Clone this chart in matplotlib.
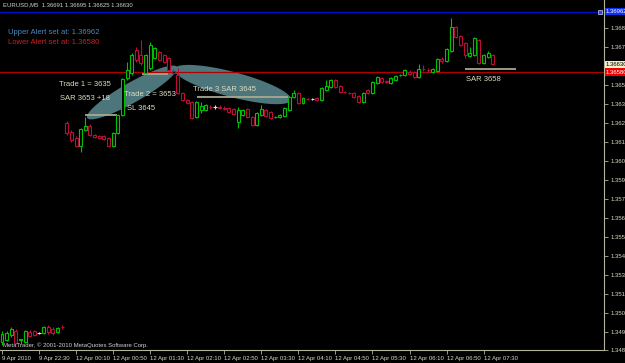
import matplotlib
matplotlib.use("Agg")
import matplotlib.pyplot as plt
from matplotlib.patches import Rectangle, Polygon
import matplotlib.transforms as mtransforms
import numpy as np
import pandas as pd

plt.rcParams['font.family'] = ['Liberation Sans', 'DejaVu Sans']

# ---------------- data (EURUSD M5) ----------------
opens = [1.34876, 1.34889, 1.34920, 1.34946, 1.34889, 1.34876, 1.34939, 1.34946, 1.34933, 1.34933, 1.34971, 1.34958, 1.34939, 1.34971,
         1.36259, 1.36202, 1.36164, 1.36114, 1.36215, 1.36240, 1.36183, 1.36177, 1.36177, 1.36164,
         1.36114, 1.36196, 1.36310, 1.36543, 1.36575, 1.36720, 1.36689, 1.36575, 1.36607, 1.36670,
         1.36708, 1.36689, 1.36670, 1.36588, 1.36562, 1.36449, 1.36404, 1.36392, 1.36297, 1.36341,
         1.36341, 1.36362, 1.36360, 1.36362, 1.36356, 1.36354, 1.36348, 1.36265, 1.36310, 1.36348,
         1.36297, 1.36246, 1.36310, 1.36341, 1.36329, 1.36295, 1.36297, 1.36303, 1.36341, 1.36423,
         1.36449, 1.36385, 1.36413, 1.36411, 1.36417, 1.36404, 1.36468, 1.36486, 1.36531, 1.36493,
         1.36457, 1.36451, 1.36449, 1.36430, 1.36392, 1.36468, 1.36449, 1.36512, 1.36543, 1.36524,
         1.36512, 1.36531, 1.36560, 1.36562, 1.36581, 1.36581, 1.36550, 1.36602, 1.36596, 1.36581,
         1.36588, 1.36663, 1.36651, 1.36714, 1.36865, 1.36809, 1.36764, 1.36682, 1.36689, 1.36783,
         1.36638, 1.36676, 1.36691]
highs = [1.34946, 1.34946, 1.34971, 1.34958, 1.34895, 1.34952, 1.34952, 1.34952, 1.34939, 1.34977, 1.34983, 1.34971, 1.34971, 1.34983,
         1.36272, 1.36215, 1.36177, 1.36227, 1.36297, 1.36253, 1.36190, 1.36183, 1.36183, 1.36171,
         1.36202, 1.36316, 1.36543, 1.36644, 1.36701, 1.36739, 1.36783, 1.36695, 1.36771, 1.36739,
         1.36714, 1.36695, 1.36676, 1.36600, 1.36607, 1.36455, 1.36411, 1.36398, 1.36398, 1.36392,
         1.36379, 1.36373, 1.36373, 1.36373, 1.36366, 1.36360, 1.36354, 1.36360, 1.36348, 1.36354,
         1.36303, 1.36329, 1.36373, 1.36348, 1.36335, 1.36303, 1.36316, 1.36360, 1.36430, 1.36468,
         1.36455, 1.36423, 1.36417, 1.36417, 1.36423, 1.36486, 1.36531, 1.36537, 1.36537, 1.36499,
         1.36461, 1.36455, 1.36455, 1.36436, 1.36455, 1.36474, 1.36524, 1.36556, 1.36550, 1.36531,
         1.36550, 1.36562, 1.36569, 1.36600, 1.36594, 1.36588, 1.36632, 1.36626, 1.36607, 1.36607,
         1.36670, 1.36676, 1.36733, 1.36922, 1.36871, 1.36815, 1.36771, 1.36739, 1.36802, 1.36789,
         1.36695, 1.36714, 1.36695]
lows = [1.34857, 1.34882, 1.34908, 1.34863, 1.34863, 1.34870, 1.34908, 1.34914, 1.34927, 1.34927, 1.34927, 1.34920, 1.34933, 1.34958,
        1.36183, 1.36139, 1.36107, 1.36076, 1.36208, 1.36177, 1.36164, 1.36158, 1.36152, 1.36107,
        1.36107, 1.36190, 1.36303, 1.36531, 1.36562, 1.36644, 1.36626, 1.36569, 1.36594, 1.36663,
        1.36651, 1.36638, 1.36588, 1.36569, 1.36442, 1.36398, 1.36379, 1.36284, 1.36291, 1.36322,
        1.36335, 1.36348, 1.36348, 1.36348, 1.36341, 1.36322, 1.36310, 1.36227, 1.36303, 1.36291,
        1.36240, 1.36240, 1.36303, 1.36297, 1.36284, 1.36291, 1.36291, 1.36297, 1.36335, 1.36417,
        1.36379, 1.36379, 1.36404, 1.36404, 1.36398, 1.36398, 1.36461, 1.36480, 1.36480, 1.36449,
        1.36449, 1.36442, 1.36417, 1.36385, 1.36385, 1.36442, 1.36442, 1.36505, 1.36512, 1.36512,
        1.36505, 1.36524, 1.36556, 1.36556, 1.36562, 1.36543, 1.36543, 1.36588, 1.36581, 1.36575,
        1.36581, 1.36638, 1.36644, 1.36708, 1.36796, 1.36745, 1.36670, 1.36676, 1.36682, 1.36632,
        1.36632, 1.36670, 1.36625]
closes = [1.34927, 1.34933, 1.34958, 1.34870, 1.34895, 1.34946, 1.34914, 1.34920, 1.34933, 1.34971, 1.34939, 1.34933, 1.34964, 1.34968,
          1.36196, 1.36152, 1.36114, 1.36221, 1.36240, 1.36183, 1.36171, 1.36164, 1.36158, 1.36114,
          1.36196, 1.36310, 1.36537, 1.36594, 1.36689, 1.36657, 1.36638, 1.36689, 1.36752, 1.36733,
          1.36657, 1.36644, 1.36594, 1.36575, 1.36449, 1.36404, 1.36385, 1.36291, 1.36392, 1.36366,
          1.36373, 1.36358, 1.36360, 1.36356, 1.36350, 1.36329, 1.36316, 1.36341, 1.36341, 1.36297,
          1.36246, 1.36322, 1.36348, 1.36303, 1.36291, 1.36299, 1.36310, 1.36354, 1.36423, 1.36449,
          1.36385, 1.36417, 1.36409, 1.36411, 1.36404, 1.36480, 1.36493, 1.36531, 1.36486, 1.36455,
          1.36453, 1.36447, 1.36423, 1.36392, 1.36449, 1.36449, 1.36518, 1.36550, 1.36518, 1.36518,
          1.36543, 1.36556, 1.36564, 1.36594, 1.36569, 1.36550, 1.36600, 1.36598, 1.36592, 1.36600,
          1.36663, 1.36651, 1.36726, 1.36865, 1.36802, 1.36752, 1.36689, 1.36701, 1.36796, 1.36638,
          1.36689, 1.36701, 1.36630]

times = pd.date_range('2010-04-09 21:50', periods=14, freq='5min').append(
    pd.date_range('2010-04-12 00:00', periods=93, freq='5min'))

y_ticks = [1.36860, 1.36740, 1.36500, 1.36380, 1.36260, 1.36140, 1.36020, 1.35900, 1.35780,
           1.35660, 1.35540, 1.35420, 1.35300, 1.35180, 1.35060, 1.34940, 1.34825]

upper_alert = 1.36962
lower_alert = 1.36580
bid = 1.36630

notes = [("Trade 1 = 3635", 12.3, 1.36505), ("SAR 3653 +18", 12.5, 1.36411),
         ("Trade 2 = 3653", 26.3, 1.36442), ("SL 3645", 27.0, 1.36348),
         ("Trade 3 SAR 3645", 41.3, 1.36468), ("SAR 3658", 100.2, 1.36531)]
trade_lines = [(17.9, 24.8, 1.36310), (30.2, 35.9, 1.36569), (42.1, 61.8, 1.36423), (100.0, 111.0, 1.36600)]
ellipses = [((18.4, 1.36291), (37.8, 1.36613), 20), ((37.2, 1.36600), (62.4, 1.36404), 25)]

# ---------------- figure ----------------
W, H = 625, 363
fig = plt.figure(figsize=(W / 100, H / 100), dpi=100, facecolor='black')
ax = fig.add_axes([0, 13 / H, 604 / W, 350 / H])
ax.set_facecolor('black')
ax.set_xlim(-0.43, 130.0)
ax.set_ylim(1.34825, 1.37036)

axis_col = '#B4B49A'
lab_col = '#D8D8C0'
for s in ['top', 'left']:
    ax.spines[s].set_visible(False)
for s in ['right', 'bottom']:
    ax.spines[s].set_color(axis_col)
    ax.spines[s].set_linewidth(0.8)

ax.yaxis.tick_right()
ax.set_yticks(y_ticks)
ax.set_yticklabels([f"{v:.5f}" for v in y_ticks])
ax.tick_params(axis='y', direction='out', length=3, width=0.6, color=axis_col,
               labelcolor=lab_col, labelsize=4.3, pad=1.5)

tick_idx = list(range(0, len(times), 8))
tick_lab = []
for k in tick_idx:
    t = times[k]
    if k == 0:
        tick_lab.append(f"{t.day} Apr {t.year}")
    else:
        tick_lab.append(f"{t.day} Apr {t:%H:%M}")
ax.set_xticks(tick_idx)
ax.set_xticklabels(tick_lab)
ax.tick_params(axis='x', direction='out', length=3, width=0.6, color=axis_col,
               labelcolor=lab_col, labelsize=4.3, pad=1)
for lbl in ax.get_xticklabels():
    lbl.set_horizontalalignment('left')

fig.canvas.draw()


def ellipse(p1, p2, minor_px, **kw):
    a = ax.transData.transform([p1, p2])
    c = a.mean(axis=0)
    d = a[1] - a[0]
    L = np.hypot(d[0], d[1]) / 2
    ang = np.arctan2(d[1], d[0])
    t = np.linspace(0, 2 * np.pi, 120)
    xs = c[0] + L * np.cos(t) * np.cos(ang) - minor_px / 2 * np.sin(t) * np.sin(ang)
    ys = c[1] + L * np.cos(t) * np.sin(ang) + minor_px / 2 * np.sin(t) * np.cos(ang)
    pts = ax.transData.inverted().transform(np.column_stack([xs, ys]))
    ax.add_patch(Polygon(pts, closed=True, **kw))


for p1, p2, m in ellipses:
    ellipse(p1, p2, m, facecolor='#4C767B', edgecolor='none', zorder=1)

# candles
green = '#00C000'
red = '#B80E38'
for i, (o, h, l, c) in enumerate(zip(opens, highs, lows, closes)):
    col = green if c > o else (red if c < o else '#E0E0E0')
    lo, hi = min(o, c), max(o, c)
    ax.vlines(i, l, lo, color=col, lw=0.8, zorder=3)
    ax.vlines(i, hi, h, color=col, lw=0.8, zorder=3)
    if hi - lo < 1e-5:
        ax.hlines(lo, i - 0.35, i + 0.35, color=col, lw=0.8, zorder=3)
    else:
        ax.add_patch(Rectangle((i - 0.32, lo), 0.64, hi - lo, facecolor='black',
                               edgecolor=col, lw=0.8, zorder=3))

# trade lines
for x0, x1, yv in trade_lines:
    ax.hlines(yv, x0, x1, color='#A8A890', lw=1.3, zorder=2)

# alert lines
ax.axhline(upper_alert, color='#0010D0', lw=0.8, zorder=2)
ax.axhline(lower_alert, color='#B00000', lw=0.9, zorder=2)
ax.plot([129.2], [upper_alert], marker='s', ms=2.2, mfc='#2040FF', mec='white', mew=0.4, zorder=4)

# notes
for s, x, yv in notes:
    ax.text(x, yv, s, color='#DCDCC0', fontsize=5.5, va='center', ha='left', zorder=5)

ax.text(8 / 604, 1 - 32 / 350, f"Upper Alert set at: {upper_alert:.5f}", transform=ax.transAxes,
        color='#4A88C4', fontsize=5.5, va='center', ha='left')
ax.text(8 / 604, 1 - 43 / 350, f"Lower Alert set at: {lower_alert:.5f}", transform=ax.transAxes,
        color='#D02020', fontsize=5.5, va='center', ha='left')

ax.text(3 / 604, 1 - 5 / 350,
        f"EURUSD,M5  {opens[-1]:.5f} {highs[-1]:.5f} {lows[-1]:.5f} {closes[-1]:.5f}",
        transform=ax.transAxes, color='#D0D0D0', fontsize=4.3, va='center', ha='left')
ax.text(3 / 604, 1 - 345 / 350, "MetaTrader, © 2001-2010 MetaQuotes Software Corp.",
        transform=ax.transAxes, color='#D0D0D0', fontsize=4.3, va='center', ha='left')

# right price boxes
blend = mtransforms.blended_transform_factory(ax.transAxes, ax.transData)
for val, fc, tc in [(upper_alert, '#1030F0', 'white'), (bid, '#F2EEC8', 'black'),
                    (lower_alert, '#F00000', 'white')]:
    ax.text(1.0 + 2 / 604, val, f"{val:.5f}", transform=blend, color=tc, fontsize=4.3,
            va='center', ha='left', zorder=6,
            bbox=dict(boxstyle='square,pad=0.2', facecolor=fc, edgecolor='none'))

fig.savefig('out.png', dpi=100, facecolor='black')
